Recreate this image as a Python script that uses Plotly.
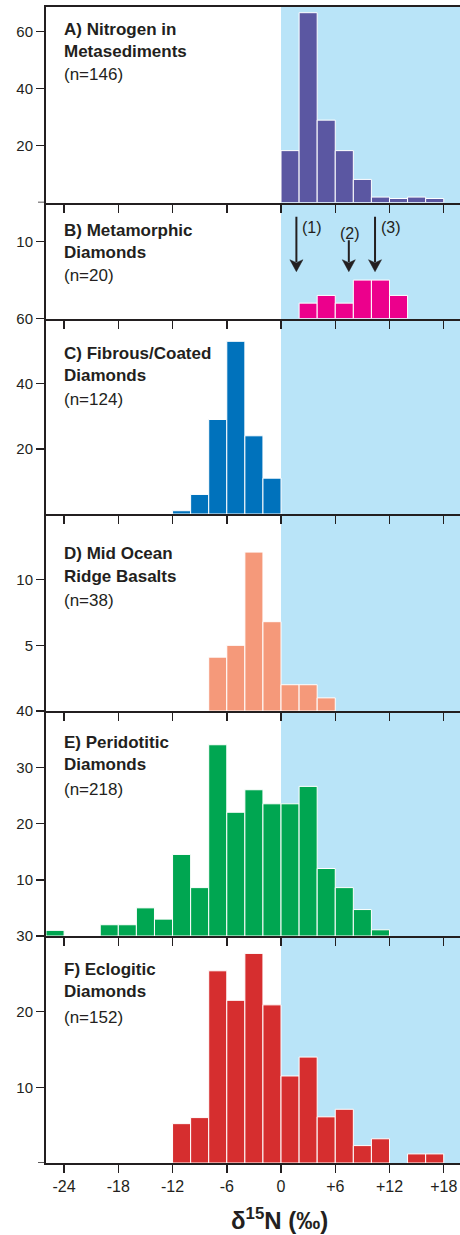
import plotly.graph_objects as go

# ---------------- data ----------------
bin_width = 2
A_bins = [0, 2, 4, 6, 8, 10, 12, 14, 16]
A_vals = [18.2, 66.6, 28.9, 18.2, 8.1, 1.9, 1.4, 1.9, 1.4]

B_bins = [2, 4, 6, 8, 10, 12]
B_vals = [2, 3, 2, 5, 5, 3]

C_bins = [-12, -10, -8, -6, -4, -2]
C_vals = [1, 6, 29, 53, 24, 11]

D_bins = [-8, -6, -4, -2, 0, 2, 4]
D_vals = [4.1, 5.0, 12.1, 6.8, 2.0, 2.0, 1.0]

E_bins = [-26, -20, -18, -16, -14, -12, -10, -8, -6, -4, -2, 0, 2, 4, 6, 8, 10]
E_vals = [1, 2, 2, 5, 3, 14.5, 8.6, 34, 22, 26, 23.5, 23.5, 26.6, 12, 8.6, 4.7, 1.1]

F_bins = [-12, -10, -8, -6, -4, -2, 0, 2, 4, 6, 8, 10, 14, 16]
F_vals = [5.2, 6.0, 25.4, 21.5, 27.7, 20.9, 11.5, 14.0, 6.1, 7.1, 2.3, 3.2, 1.2, 1.2]

panel_titles = [
    ["A) Nitrogen in", "Metasediments", "(n=146)"],
    ["B) Metamorphic", "Diamonds", "(n=20)"],
    ["C) Fibrous/Coated", "Diamonds", "(n=124)"],
    ["D) Mid Ocean", "Ridge Basalts", "(n=38)"],
    ["E) Peridotitic", "Diamonds", "(n=218)"],
    ["F) Eclogitic", "Diamonds", "(n=152)"],
]
panel_colors = ["#5b57a2", "#ec008c", "#0072bc", "#f5997a", "#00a651", "#d62e2f"]

y_tickvals = [[20, 40, 60], [10], [20, 40, 60], [5, 10], [10, 20, 30, 40], [10, 20, 30]]
y_ticktext = [["20", "40", "60"], ["10"], ["20", "40", "60"], ["5", "10"],
              ["10", "20", "30", "40"], ["10", "20", "30"]]
y_ranges = [68.6, 15.1, 60, 15, 40, 30]
zero_tick_panels = [0, 5]   # panels with an unlabeled tick at 0

x_tickvals = [-24, -18, -12, -6, 0, 6, 12, 18]
x_ticktext = ["-24", "-18", "-12", "-6", "0", "+6", "+12", "+18"]
x_range = [-26, 19.8]

arrow_x = [1.7, 7.5, 10.4]
arrow_top = [13.25, 10.2, 13.25]
arrow_tip = 6.1
arrow_labels = ["(1)", "(2)", "(3)"]
arrow_label_x = [3.45, 7.6, 12.2]
arrow_label_y = [11.8, 11.1, 11.8]

# ---------------- layout helpers ----------------
W, H = 460, 1235
ML, MR, MT, MB = 46, 0, 7, 72
PH = H - MT - MB
PW = W - ML - MR
def py(ypx):
    return (H - MB - ypx) / PH
def px(xpx):
    return (xpx - ML) / PW

panel_px = [(7, 202.5), (202.5, 318.5), (318.5, 514), (514, 711), (711, 936), (936, 1163)]
title_line_px = [
    [29.3, 51.7, 74.5],
    [230, 252.3, 275.5],
    [353.3, 375.7, 399.5],
    [553.3, 576.7, 600.5],
    [742.7, 765, 789.5],
    [970, 991.7, 1017],
]

INK = "#231f20"
FONT = "Liberation Sans, Arial, Helvetica, sans-serif"

bins_all = [A_bins, B_bins, C_bins, D_bins, E_bins, F_bins]
vals_all = [A_vals, B_vals, C_vals, D_vals, E_vals, F_vals]

fig = go.Figure()
layout = dict(
    width=W, height=H,
    margin=dict(l=ML, r=MR, t=MT, b=MB, autoexpand=False),
    paper_bgcolor="white", plot_bgcolor="rgba(0,0,0,0)",
    showlegend=False, bargap=0, hovermode=False,
    font=dict(family=FONT, color=INK, size=15),
)
annotations = []
shapes = []

# blue shaded region (positive delta15N)
shapes.append(dict(type="rect", xref="x", yref="paper", x0=0, x1=x_range[1],
                   y0=0, y1=1, fillcolor="#b9e4f8", line=dict(width=0), layer="below"))

for i in range(6):
    k = i + 1
    xa = "x" if k == 1 else f"x{k}"
    ya = "y" if k == 1 else f"y{k}"
    fig.add_trace(go.Bar(
        x=[b + bin_width / 2 for b in bins_all[i]], y=vals_all[i], width=bin_width,
        marker=dict(color=panel_colors[i], line=dict(color="white", width=1)),
        xaxis=xa, yaxis=ya, hoverinfo="skip",
    ))
    top, bot = panel_px[i]
    xkey = "xaxis" if k == 1 else f"xaxis{k}"
    ykey = "yaxis" if k == 1 else f"yaxis{k}"
    layout[xkey] = dict(
        domain=[0, 1], anchor=ya, range=x_range, showgrid=False, zeroline=False,
        showline=True, linecolor=INK, linewidth=2, mirror=(k == 1),
        ticks="outside", ticklen=8, tickwidth=1.5, tickcolor=INK,
        tickvals=x_tickvals, ticktext=x_ticktext, showticklabels=(k == 6),
        tickfont=dict(size=16, color=INK, family=FONT), automargin=False,
    )
    if k > 1:
        layout[xkey]["matches"] = "x"
    layout[ykey] = dict(
        domain=[py(bot), py(top)], anchor=xa, range=[0, y_ranges[i]],
        showgrid=False, zeroline=False, showline=True, linecolor=INK, linewidth=2,
        ticks="outside", ticklen=8, tickwidth=1.5, tickcolor=INK,
        tickvals=y_tickvals[i], ticktext=y_ticktext[i],
        tickfont=dict(size=15, color=INK, family=FONT), automargin=False,
    )
    if i in zero_tick_panels:
        shapes.append(dict(type="line", xref="paper", yref=f"{ya}",
                           x0=px(ML - 8), x1=0, y0=0, y1=0,
                           line=dict(color=INK, width=1.5)))
    for j, (line, yc) in enumerate(zip(panel_titles[i], title_line_px[i])):
        txt = line if j == 2 else f"<b>{line}</b>"
        annotations.append(dict(
            text=txt, xref="paper", yref="paper", x=px(62), y=py(yc),
            xanchor="left", yanchor="middle", showarrow=False,
            font=dict(size=17, color=INK, family=FONT),
        ))

# arrows in panel B (drawn as line + filled head)
head_half_w = 0.72   # x units (about 6.5 px)
head_len = 1.55      # panel-B y units (about 12 px)
for ax_, at, lab, lx, ly in zip(arrow_x, arrow_top, arrow_labels, arrow_label_x, arrow_label_y):
    shapes.append(dict(type="line", xref="x2", yref="y2", x0=ax_, x1=ax_,
                       y0=at, y1=arrow_tip + head_len * 0.8,
                       line=dict(color=INK, width=2)))
    shapes.append(dict(
        type="path", xref="x2", yref="y2",
        path=(f"M {ax_ - head_half_w},{arrow_tip + head_len} "
              f"L {ax_},{arrow_tip + head_len * 0.75} "
              f"L {ax_ + head_half_w},{arrow_tip + head_len} "
              f"L {ax_},{arrow_tip} Z"),
        fillcolor=INK, line=dict(color=INK, width=0.5),
    ))
    annotations.append(dict(
        x=lx, y=ly, xref="x2", yref="y2", text=lab, showarrow=False,
        xanchor="center", yanchor="middle", font=dict(size=16, color=INK, family=FONT),
    ))

# x-axis title
annotations.append(dict(
    text="<b>δ<sup>15</sup>N (‰)</b>", xref="paper", yref="paper",
    x=px(279), y=py(1219), xanchor="center", yanchor="middle", showarrow=False,
    font=dict(size=24, color=INK, family=FONT),
))

layout["annotations"] = annotations
layout["shapes"] = shapes
fig.update_layout(**layout)
fig.write_html(
    "out.html",
    config={"displayModeBar": False, "staticPlot": True},
    post_script="document.body.style.margin='0';document.body.style.overflow='hidden';",
)
